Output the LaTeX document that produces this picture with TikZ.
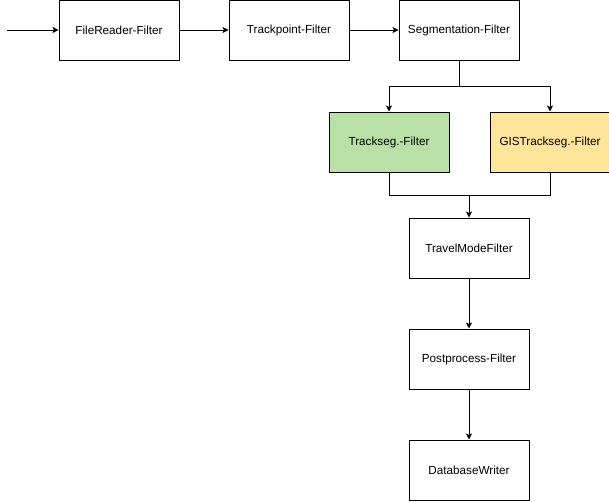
\documentclass[tikz,border=0pt]{standalone}
\usepackage{fontspec}
\setmainfont{Liberation Sans}
\usepackage{xcolor}
\definecolor{lineDark}{HTML}{000000}
\definecolor{segGreen}{HTML}{B9E0A5}
\definecolor{gisYellow}{HTML}{FFE599}
\usetikzlibrary{positioning,arrows.meta}
\tikzset{%
  filterBox/.style={%
    rectangle,
    draw=lineDark,
    fill=white,
    line width=1pt,
    minimum width=120pt,
    minimum height=60pt,
    inner sep=0pt,
    align=center,
    font=\fontsize{11.7}{14}\selectfont
  },
  greenBox/.style={%
    filterBox,
    fill=segGreen
  },
  yellowBox/.style={%
    filterBox,
    fill=gisYellow
  },
  arrowLine/.style={%
    -{Stealth[length=6pt,width=6pt,inset=1.5pt]},
    line width=1pt,
    color=lineDark
  },
  plainLine/.style={%
    line width=1pt,
    color=lineDark
  }
}
\begin{document}
\begin{tikzpicture}[x=1pt,y=1pt]
            \useasboundingbox (0,0) rectangle (609,-501);
            \node[filterBox] (reader) at (119,-30) {FileReader-Filter};
            \node[filterBox, right=49pt of reader] (trackpoint) {Trackpoint-Filter};
            \node[filterBox, right=49pt of trackpoint] (segmentation) {Segmentation-Filter};
            \node[greenBox, below=51pt of segmentation, xshift=-70pt] (trackseg) {Trackseg.-Filter};
            \node[yellowBox, right=40pt of trackseg] (gistrackseg) {GISTrackseg.-Filter};
            \node[filterBox, below=46pt of segmentation, xshift=10pt, yshift=-111pt] (travelmode) {TravelModeFilter};
            \node[filterBox, below=50pt of travelmode] (postprocess) {Postprocess-Filter};
            \node[filterBox, below=50pt of postprocess] (dbwriter) {DatabaseWriter};
            \coordinate (input) at (7,-30);

            \draw[arrowLine] (input) -- (reader);
            \draw[arrowLine] (reader) -- (trackpoint);
            \draw[arrowLine] (trackpoint) -- (segmentation);
            \draw[plainLine] (segmentation.south) -- ++(0,-26) coordinate (split);
            \draw[arrowLine] (split) -| (trackseg.north);
            \draw[arrowLine] (split) -| (gistrackseg.north);
            \draw[plainLine] (trackseg.south) -- ++(0,-23) coordinate (merge) -| (gistrackseg.south);
            \draw[arrowLine] (merge -| travelmode.north) -- (travelmode.north);
            \draw[arrowLine] (travelmode) -- (postprocess);
            \draw[arrowLine] (postprocess) -- (dbwriter);
        \end{tikzpicture}
\end{document}
